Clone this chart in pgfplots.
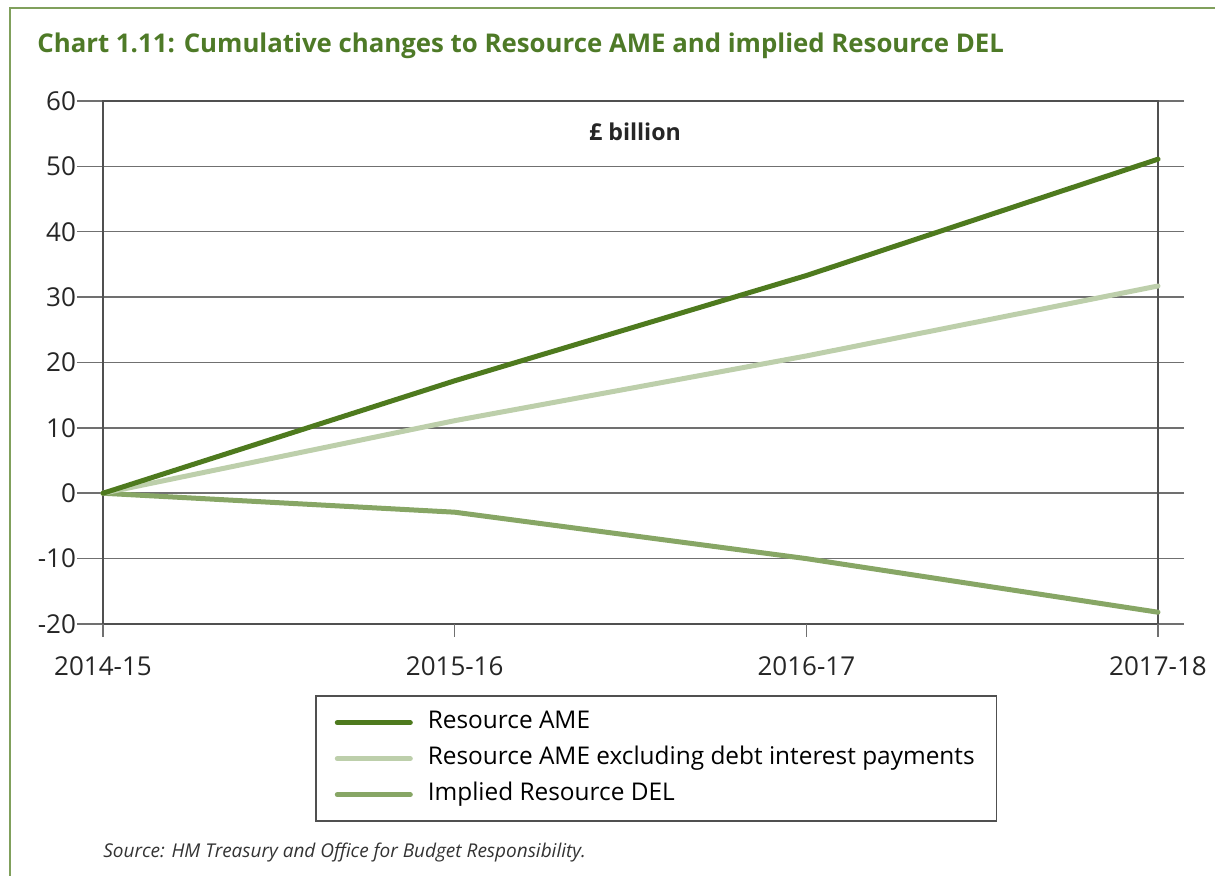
\documentclass[border=0pt]{standalone}
\usepackage{fontspec}
\setmainfont{Open Sans}
\usepackage{pgfplots}
\pgfplotsset{compat=1.18}
\definecolor{ame}{HTML}{4E7A1E}
\definecolor{amex}{HTML}{BDCFAB}
\definecolor{del}{HTML}{87A665}
\definecolor{titlegreen}{HTML}{4E7A27}
\definecolor{framec}{HTML}{80A05C}
\definecolor{gridc}{HTML}{707070}
\definecolor{axisc}{HTML}{505050}
\begin{document}
\begin{tikzpicture}
\path[use as bounding box] (0,0) rectangle (607.5pt,438pt);
\draw[framec, line width=1pt] (5pt,0) -- (5pt,434pt) -- (607.5pt,434pt);
\node[anchor=base west, text=titlegreen, font=\fontsize{12.9}{15}\selectfont\bfseries, inner sep=0pt] at (18.5pt,411.5pt) {Chart 1.11: Cumulative changes to Resource AME and implied Resource DEL};
\begin{axis}[
  at={(51.5pt,126pt)}, anchor=south west,
  scale only axis, width=527.5pt, height=261.5pt,
  xmin=0, xmax=3, ymin=-20, ymax=60,
  xtick={0,1,2,3}, xticklabels={2014-15,2015-16,2016-17,2017-18},
  ytick={-20,-10,...,60}, yticklabels={-20,-10,0,10,20,30,40,50,60},
  ymajorgrids, grid style={gridc, line width=0.75pt},
  tick align=outside, major tick length=13pt,
  xtick style={draw=none},
  ytick style={gridc, line width=0.75pt},
  axis line style={axisc, line width=1pt},
  tick label style={font=\fontsize{13}{15}\selectfont, text=black!85},
  yticklabel style={xshift=3pt},
  clip=false,
  reverse legend,
  legend style={at={(0.201,-0.1367)}, anchor=north west, draw=axisc, line width=0.75pt,
    font=\fontsize{12.2}{14}\selectfont, inner xsep=9.5pt, inner ysep=5.75pt,
    row sep=3pt, nodes={inner sep=1.5pt, text height=9pt, text depth=3pt}},
  legend cell align=left,
  legend image code/.code={\draw[#1] (0pt,0pt) -- (36.5pt,0pt); \path (42.5pt,0pt);},
]
\addplot[del, line width=2.5pt, line cap=round, line join=round] coordinates {(0,0) (1,-2.9) (2,-10.0) (3,-18.2)};
\addlegendentry{Implied Resource DEL}
\addplot[amex, line width=2.5pt, line cap=round, line join=round] coordinates {(0,0) (1,11.1) (2,21.0) (3,31.7)};
\addlegendentry{Resource AME excluding debt interest payments}
\addplot[ame, line width=2.5pt, line cap=round, line join=round] coordinates {(0,0) (1,17.2) (2,33.3) (3,51.1)};
\addlegendentry{Resource AME}
\draw[gridc, line width=0.75pt] (axis cs:0,-20) -- ([yshift=-6.5pt]axis cs:0,-20);
\draw[gridc, line width=0.75pt] (axis cs:1,-20) -- ([yshift=-6.5pt]axis cs:1,-20);
\draw[gridc, line width=0.75pt] (axis cs:2,-20) -- ([yshift=-6.5pt]axis cs:2,-20);
\draw[gridc, line width=0.75pt] (axis cs:3,-20) -- ([yshift=-6.5pt]axis cs:3,-20);
\end{axis}
\node[anchor=base, font=\fontsize{11.6}{14}\selectfont\bfseries, text=black!85] at (317.5pt,367.5pt) {£ billion};
\node[anchor=base west, font=\fontsize{9.5}{11}\selectfont\itshape, text=black!80, inner sep=0pt] at (51.5pt,9pt) {Source: HM Treasury and Office for Budget Responsibility.};
\end{tikzpicture}
\end{document}
